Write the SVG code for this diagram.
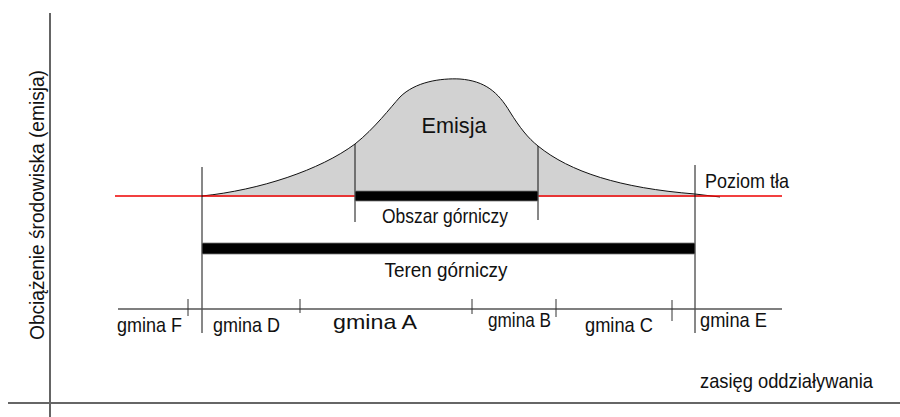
<svg xmlns="http://www.w3.org/2000/svg" width="900" height="417" viewBox="0 0 900 417">
<style>
text{font-family:"Liberation Sans",Arial,sans-serif;fill:#111;}
.lbl{font-size:21px;}
.thin{stroke:#111;stroke-width:1;fill:none;}
.tick{stroke:#333;stroke-width:1;}
.bar{fill:#000;stroke:#777;stroke-width:0.8;}
</style>
<rect width="900" height="417" fill="#fff"/>
<g id="axes">
<line x1="50" y1="13" x2="50" y2="417" stroke="#111" stroke-width="1.3"/>
<line x1="8" y1="403" x2="900" y2="403" stroke="#666" stroke-width="2"/>
<text class="lbl" transform="translate(44,205) rotate(-90)" text-anchor="middle" font-size="21" textLength="270" lengthAdjust="spacingAndGlyphs">Obciążenie środowiska (emisja)</text>
<text class="lbl" x="700" y="388" textLength="173" lengthAdjust="spacingAndGlyphs">zasięg oddziaływania</text>
</g>
<g id="emisja">
<path d="M202,196 C260,190 320,170 355,144 C375,128 390,108 400,97 C415,82 440,78 460,79 C485,81 498,92 510,112 C520,128 528,138 538,146 C570,172 620,188 695,194 L720,197 L202,197 Z" fill="#d2d2d2" stroke="none"/>
<path d="M202,196 C260,190 320,170 355,144 C375,128 390,108 400,97 C415,82 440,78 460,79 C485,81 498,92 510,112 C520,128 528,138 538,146 C570,172 620,188 695,194 L720,197" class="thin"/>
<text x="454" y="133" font-size="22" text-anchor="middle" textLength="65" lengthAdjust="spacingAndGlyphs">Emisja</text>
</g>
<g id="poziom-tla">
<line x1="115" y1="196" x2="782" y2="196" stroke="#e00" stroke-width="1.3"/>
<text class="lbl" x="705" y="188" font-size="20" textLength="84" lengthAdjust="spacingAndGlyphs">Poziom tła</text>
</g>
<g id="obszar-gorniczy">
<line x1="355" y1="144" x2="355" y2="222" class="thin"/>
<line x1="538" y1="146" x2="538" y2="220" class="thin"/>
<rect class="bar" x="355" y="191" width="183" height="10"/>
<text x="445" y="223" font-size="21" text-anchor="middle" textLength="126" lengthAdjust="spacingAndGlyphs">Obszar górniczy</text>
</g>
<g id="teren-gorniczy">
<line x1="202" y1="167" x2="202" y2="333" class="thin"/>
<line x1="695" y1="165" x2="695" y2="333" class="thin"/>
<rect class="bar" x="202" y="243" width="493" height="11"/>
<text x="446" y="277" font-size="21" text-anchor="middle" textLength="123" lengthAdjust="spacingAndGlyphs">Teren górniczy</text>
</g>
<g id="gminy">
<line x1="118" y1="309" x2="782" y2="309" stroke="#555" stroke-width="1.5"/>
<line class="tick" x1="188" y1="299" x2="188" y2="316"/>
<line class="tick" x1="300" y1="299" x2="300" y2="313"/>
<line class="tick" x1="472" y1="299" x2="472" y2="314"/>
<line class="tick" x1="556" y1="299" x2="556" y2="317"/>
<line class="tick" x1="672" y1="300" x2="672" y2="321"/>
<text class="lbl" x="117" y="332" textLength="65" lengthAdjust="spacingAndGlyphs">gmina F</text>
<text class="lbl" x="213" y="332" textLength="67" lengthAdjust="spacingAndGlyphs">gmina D</text>
<text class="lbl" x="333" y="329" font-size="21" textLength="84" lengthAdjust="spacingAndGlyphs">gmina A</text>
<text class="lbl" x="488" y="327" textLength="63" lengthAdjust="spacingAndGlyphs">gmina B</text>
<text class="lbl" x="585" y="332" textLength="68" lengthAdjust="spacingAndGlyphs">gmina C</text>
<text class="lbl" x="700" y="327" textLength="67" lengthAdjust="spacingAndGlyphs">gmina E</text>
</g>
</svg>
